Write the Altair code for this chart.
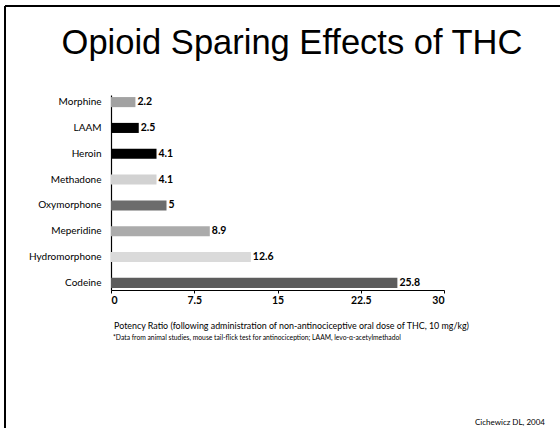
import altair as alt
import pandas as pd

drugs = ["Morphine", "LAAM", "Heroin", "Methadone", "Oxymorphone",
         "Meperidine", "Hydromorphone", "Codeine"]
potency = [2.2, 2.5, 4.1, 4.1, 5, 8.9, 12.6, 25.8]
fills = ["#a2a2a2", "#000000", "#000000", "#d2d2d2", "#6c6c6c",
         "#ababab", "#dadada", "#5c5c5c"]
x_ticks = [0, 7.5, 15, 22.5, 30]
value_text = ["2.2", "2.5", "4.1", "4.1", "5", "8.9", "12.6", "25.8"]

df = pd.DataFrame({"drug": drugs, "potency": potency, "fill": fills,
                   "label": value_text})
one = pd.DataFrame({"k": [0]})

W, H = 333, 195
LEFT, TOP = 111, 95
FONT = "Lato"

y_enc = alt.Y("drug:N", sort=drugs,
              scale=alt.Scale(paddingInner=0.61, paddingOuter=0.08),
              axis=alt.Axis(title=None, labelFont=FONT, labelFontSize=10,
                            labelColor="#000", labelPadding=10, ticks=False,
                            domainColor="#000", domainWidth=1.2))
x_enc = alt.X("potency:Q", scale=alt.Scale(domain=[0, 30], nice=False),
              axis=alt.Axis(values=x_ticks, grid=False, labelFont=FONT,
                            labelFontSize=10.5, labelFontWeight="bold",
                            labelColor="#000", tickColor="#000", tickSize=3,
                            domainColor="#000", domainWidth=1.2,
                            labelPadding=2,
                            labelExpr="datum.value == 0 ? '0' : format(datum.value, '.3~')",
                            title="Potency Ratio (following administration of non-antinociceptive oral dose of THC, 10 mg/kg)",
                            titleFont=FONT, titleFontSize=8.9,
                            titleFontWeight="normal", titleColor="#000",
                            titleX=180, titleY=31))

bars = alt.Chart(df).mark_bar(stroke=None).encode(
    x=x_enc, y=y_enc,
    color=alt.Color("fill:N", scale=None),
)

labels = alt.Chart(df).mark_text(align="left", baseline="middle", dx=2,
                                 font=FONT, fontSize=10.5, fontWeight="bold",
                                 color="#000").encode(
    x="potency:Q", y=alt.Y("drug:N", sort=drugs), text="label:N")

# slide frame: top and left edges
frame_top = alt.Chart(one).mark_rule(color="#000", strokeWidth=2).encode(
    x=alt.value(5 - LEFT), x2=alt.value(560 - LEFT), y=alt.value(6 - TOP))
frame_left = alt.Chart(one).mark_rule(color="#000", strokeWidth=2).encode(
    x=alt.value(5 - LEFT), y=alt.value(6 - TOP), y2=alt.value(428 - TOP))

heading = alt.Chart(one).mark_text(align="center", baseline="alphabetic",
                                   font="Liberation Sans", fontSize=34.5,
                                   color="#000").encode(
    x=alt.value(292 - LEFT), y=alt.value(54 - TOP),
    text=alt.value("Opioid Sparing Effects of THC"))

footnote = alt.Chart(one).mark_text(align="left", baseline="middle",
                                    font=FONT, fontSize=6.75,
                                    color="#000").encode(
    x=alt.value(113 - LEFT), y=alt.value(338 - TOP),
    text=alt.value("*Data from animal studies, mouse tail-flick test for antinociception; LAAM, levo-\u03b1-acetylmethadol"))

citation = alt.Chart(one).mark_text(align="right", baseline="middle",
                                    font=FONT, fontSize=8,
                                    color="#000").encode(
    x=alt.value(545 - LEFT), y=alt.value(423 - TOP),
    text=alt.value("Cichewicz DL, 2004"))

chart = alt.layer(bars, labels, frame_top, frame_left, heading, footnote, citation).properties(
    width=W, height=H,
    background="white",
    autosize=alt.AutoSizeParams(type="none"),
    padding={"left": LEFT, "top": TOP, "right": 560 - LEFT - W,
             "bottom": 428 - TOP - H},
).configure_view(strokeWidth=0, stroke="transparent")

chart.save("out.html", embed_options={"renderer": "svg", "actions": False})
